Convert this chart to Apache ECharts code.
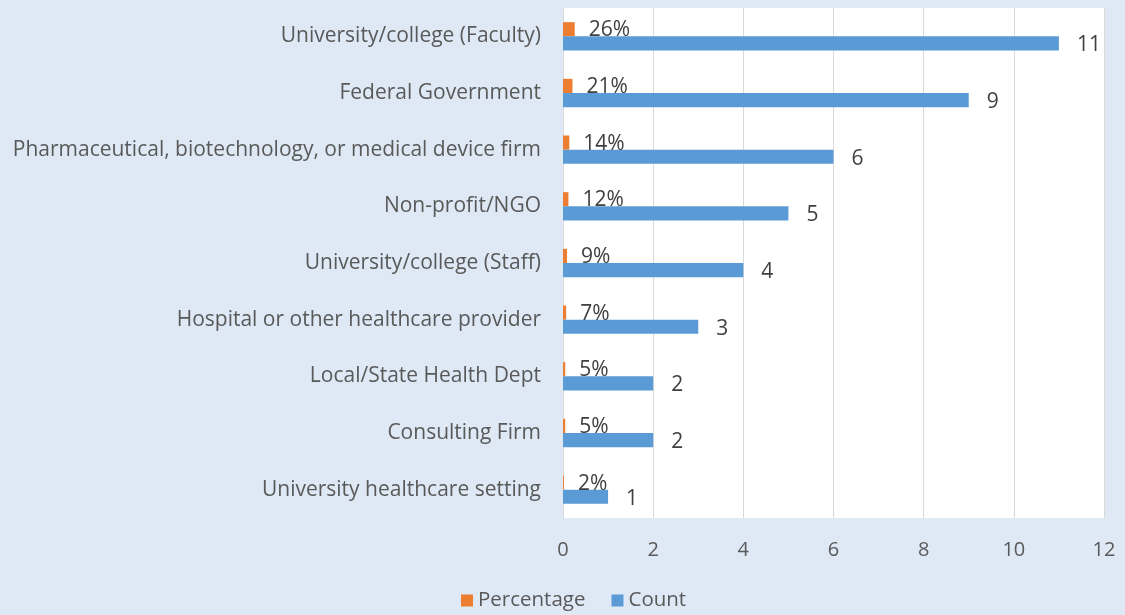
<!DOCTYPE html>
<html>
<head>
<meta charset="utf-8">
<script src="https://cdn.jsdelivr.net/npm/echarts@6/dist/echarts.min.js"></script>
<style>
html,body{margin:0;padding:0;background:#DEE9F5;}
#c{width:1125px;height:615px;}
</style>
</head>
<body>
<div id="c"></div>
<script>
const categories = [
  "University/college (Faculty)",
  "Federal Government",
  "Pharmaceutical, biotechnology, or medical device firm",
  "Non-profit/NGO",
  "University/college (Staff)",
  "Hospital or other healthcare provider",
  "Local/State Health Dept",
  "Consulting Firm",
  "University healthcare setting"
];
const percentage = [0.26, 0.21, 0.14, 0.12, 0.09, 0.07, 0.05, 0.05, 0.02];
const count = [11, 9, 6, 5, 4, 3, 2, 2, 1];
const xTicks = { min: 0, max: 12, interval: 2 };

const FONT = "Open Sans";
const chart = echarts.init(document.getElementById('c'));
chart.setOption({
  backgroundColor: '#DEE9F5',
  animation: false,
  textStyle: { fontFamily: FONT },
  grid: {
    left: 563, right: 21, top: 8, bottom: 97,
    show: true, backgroundColor: '#FFFFFF', borderWidth: 0
  },
  legend: {
    top: 590, left: 461, padding: 0,
    itemWidth: 12, itemHeight: 12, itemGap: 26,
    icon: 'rect',
    textStyle: { fontFamily: FONT, fontSize: 20.5, color: '#595959' },
    data: ['Percentage', 'Count']
  },
  xAxis: {
    type: 'value', min: xTicks.min, max: xTicks.max, interval: xTicks.interval,
    axisLine: { show: false }, axisTick: { show: false },
    splitLine: { lineStyle: { color: '#D9D9D9', width: 1 } },
    axisLabel: { fontFamily: FONT, fontSize: 20, color: '#595959', margin: 22 }
  },
  yAxis: {
    type: 'category', data: categories, inverse: true,
    axisLine: { show: true, lineStyle: { color: '#D9D9D9' } },
    axisTick: { show: false },
    axisLabel: { fontFamily: FONT, fontSize: 21, color: '#595959', margin: 22 }
  },
  series: [
    {
      name: 'Percentage', type: 'bar', data: percentage,
      barGap: '0%', barCategoryGap: '50%',
      itemStyle: { color: '#ED7D31' },
      label: {
        show: true, position: 'right', distance: 14, offset: [0, 1],
        fontFamily: FONT, fontSize: 21, color: '#404040',
        formatter: p => Math.round(p.value * 100) + '%'
      }
    },
    {
      name: 'Count', type: 'bar', data: count,
      itemStyle: { color: '#5B9BD5' },
      label: {
        show: true, position: 'right', distance: 18, offset: [0, 2],
        fontFamily: FONT, fontSize: 21, color: '#404040'
      }
    }
  ]
});
</script>
</body>
</html>
